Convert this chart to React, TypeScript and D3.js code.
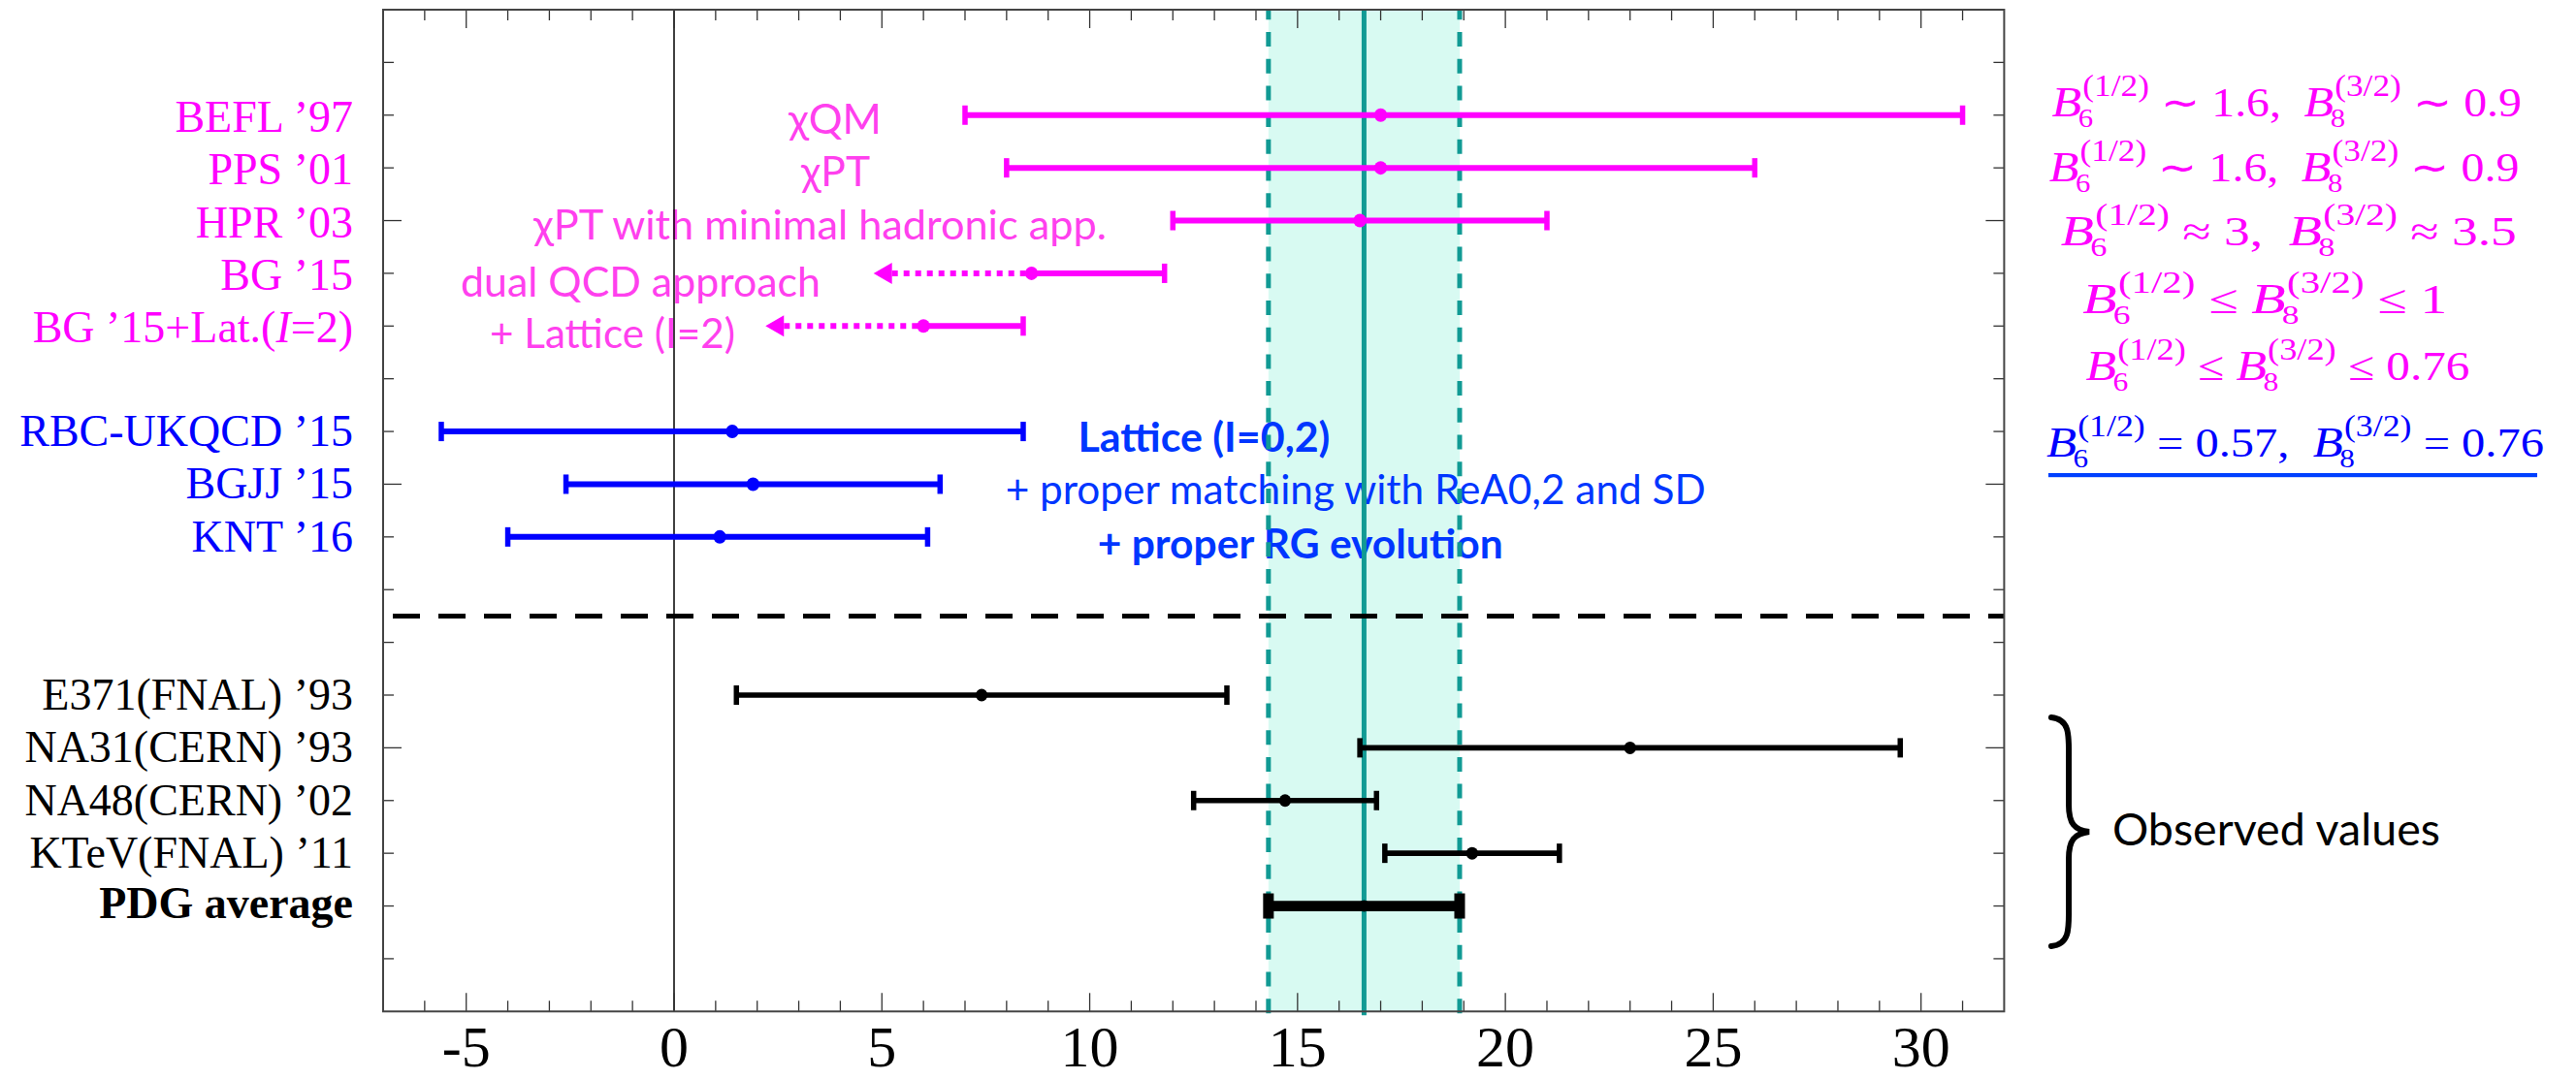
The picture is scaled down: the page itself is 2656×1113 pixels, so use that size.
import React, { useEffect, useRef } from "react";
import * as d3 from "d3";

// ---------------- data ----------------
const xDomain = [-7, 32];
const yDomain = [0, 19];
const xTickLabels = [-5, 0, 5, 10, 15, 20, 25, 30];

const theoryNames = ["BEFL ’97", "PPS ’01", "HPR ’03", "BG ’15", "BG ’15+Lat.(I=2)"];
const theoryRow = [17, 16, 15, 14, 13];
const theoryCentral = [17, 17, 16.5, 8.6, 6.0];
const theoryLow: (number | null)[] = [7, 8, 12, null, null];
const theoryHigh = [31, 26, 21, 11.8, 8.4];
const theoryArrowTo: (number | null)[] = [null, null, null, 4.8, 2.2];

const latticeNames = ["RBC-UKQCD ’15", "BGJJ ’15", "KNT ’16"];
const latticeRow = [11, 10, 9];
const latticeCentral = [1.4, 1.9, 1.1];
const latticeLow = [-5.6, -2.6, -4.0];
const latticeHigh = [8.4, 6.4, 6.1];

const exptNames = ["E371(FNAL) ’93", "NA31(CERN) ’93", "NA48(CERN) ’02", "KTeV(FNAL) ’11"];
const exptRow = [6, 5, 4, 3];
const exptCentral = [7.4, 23.0, 14.7, 19.2];
const exptLow = [1.5, 16.5, 12.5, 17.1];
const exptHigh = [13.3, 29.5, 16.9, 21.3];

const pdgName = "PDG average";
const pdgRow = 2;
const pdgCentral = 16.6;
const pdgLow = 14.3;
const pdgHigh = 18.9;

const separatorRow = 7.5;

const theoryNotes = ["χQM", "χPT", "χPT with minimal hadronic app.", "dual QCD approach", "+ Lattice (I=2)"];
const latticeNotes = ["Lattice (I=0,2)", "+ proper matching with ReA0,2 and SD", "+ proper RG evolution"];
const observedNote = "Observed values";

// B-parameter lines: [sub, sup] tokens stand for B_sub^{sup}
type Tok = string | [string, string];
const bParamLines: Tok[][] = [
  [["6", "(1/2)"], " ∼ 1.6,  ", ["8", "(3/2)"], " ∼ 0.9"],
  [["6", "(1/2)"], " ∼ 1.6,  ", ["8", "(3/2)"], " ∼ 0.9"],
  [["6", "(1/2)"], " ≈ 3,  ", ["8", "(3/2)"], " ≈ 3.5"],
  [["6", "(1/2)"], " ≤ ", ["8", "(3/2)"], " ≤ 1"],
  [["6", "(1/2)"], " ≤ ", ["8", "(3/2)"], " ≤ 0.76"],
  [["6", "(1/2)"], " = 0.57,  ", ["8", "(3/2)"], " = 0.76"],
];

// ---------------- layout ----------------
const W = 2656;
const H = 1113;
const PL = 395, PR = 2066.4, PT = 10, PB = 1043.3;

const MAGENTA = "#ff00ff";
const NOTE_PINK = "#ff40ee";
const BLUE = "#0000ff";
const NOTE_BLUE = "#0036ff";
const TEAL = "#119a94";
const MINT = "#d8faf2";

const theoryNoteLayout = [
  { x: 813, y: 138.3, w: 96 },
  { x: 826, y: 191.7, w: 71 },
  { x: 550, y: 246.7, w: 591 },
  { x: 475, y: 306, w: 371 },
  { x: 505, y: 359.3, w: 253 },
];
const latticeNoteLayout = [
  { x: 1111.4, y: 466, w: 260, bold: true },
  { x: 1036.7, y: 520, w: 722, bold: false },
  { x: 1131.7, y: 576, w: 418, bold: true },
];
const mathLayout = [
  { x: 2115.5, y: 119.6, w: 484, color: MAGENTA },
  { x: 2112.8, y: 186.8, w: 484, color: MAGENTA },
  { x: 2124.8, y: 252.9, w: 470, color: MAGENTA },
  { x: 2147.2, y: 323.2, w: 376, color: MAGENTA },
  { x: 2150.5, y: 392.1, w: 396, color: MAGENTA },
  { x: 2110, y: 471.4, w: 513, color: BLUE },
];

const x = d3.scaleLinear().domain(xDomain).range([PL, PR]);
const y = d3.scaleLinear().domain(yDomain).range([PB, PT]);

const SERIF = "'Liberation Serif', 'Times New Roman', serif";
const SANS = "Lato, 'Open Sans', sans-serif";

function renderLabel(name: string) {
  const m = name.match(/^(.*\()I(=.*)$/);
  if (m) {
    return (
      <>
        {m[1]}
        <tspan fontStyle="italic">I</tspan>
        {m[2]}
      </>
    );
  }
  return name;
}

function ErrBar(props: {
  row: number; c: number; lo: number | null; hi: number; color: string;
  lw: number; capH: number; capW: number; r: number; arrowTo?: number | null;
}) {
  const { row, c, lo, hi, color, lw, capH, capW, r, arrowTo } = props;
  const yy = y(row);
  const els: JSX.Element[] = [];
  if (arrowTo != null) {
    const tip = x(arrowTo);
    els.push(
      <line key="dot" x1={tip + 19} x2={x(c)} y1={yy} y2={yy} stroke={color} strokeWidth={lw} strokeDasharray="6 6" />
    );
    els.push(
      <polygon key="head" points={`${tip},${yy} ${tip + 19},${yy - 11} ${tip + 19},${yy + 11}`} fill={color} />
    );
    els.push(<line key="l" x1={x(c)} x2={x(hi)} y1={yy} y2={yy} stroke={color} strokeWidth={lw} />);
  } else if (lo != null) {
    els.push(<line key="l" x1={x(lo)} x2={x(hi)} y1={yy} y2={yy} stroke={color} strokeWidth={lw} />);
    els.push(<rect key="cl" x={x(lo) - capW / 2} y={yy - capH / 2} width={capW} height={capH} fill={color} />);
  }
  els.push(<rect key="ch" x={x(hi) - capW / 2} y={yy - capH / 2} width={capW} height={capH} fill={color} />);
  els.push(<ellipse key="c" cx={x(c)} cy={yy} rx={r * 0.95} ry={r} fill={color} />);
  return <g>{els}</g>;
}

export default function App() {
  const mathRef = useRef<SVGGElement>(null);

  useEffect(() => {
    const root = d3.select(mathRef.current);
    root.selectAll("*").remove();
    bParamLines.forEach((tokens, i) => {
      const L = mathLayout[i];
      const g = root.append("g").attr("fill", L.color).attr("font-family", SERIF);
      let cx = 0;
      tokens.forEach((tok) => {
        if (typeof tok === "string") {
          const t = g.append("text").attr("x", cx).attr("y", 0).attr("font-size", 42)
            .style("white-space", "pre").text(tok);
          cx += (t.node() as SVGTextElement).getComputedTextLength();
        } else {
          const b = g.append("text").attr("x", cx).attr("y", 0).attr("font-size", 44)
            .attr("font-style", "italic").text("B");
          cx += (b.node() as SVGTextElement).getComputedTextLength() + 1;
          const sup = g.append("text").attr("x", cx).attr("y", -21).attr("font-size", 31).text(tok[1]);
          const sub = g.append("text").attr("x", cx - 4).attr("y", 11).attr("font-size", 27).text(tok[0]);
          cx += Math.max(
            (sup.node() as SVGTextElement).getComputedTextLength(),
            (sub.node() as SVGTextElement).getComputedTextLength() - 4
          );
        }
      });
      const sx = L.w / cx;
      g.attr("transform", `translate(${L.x},${L.y}) scale(${sx},1)`);
    });
  }, []);

  const xMinor = d3.range(-6, 32);
  const yMinor = d3.range(1, 19);
  const isMajorX = (v: number) => v % 5 === 0;
  const isMajorY = (v: number) => v % 5 === 0;

  return (
    <svg width={W} height={H} viewBox={`0 0 ${W} ${H}`}
      style={{ position: "absolute", left: 0, top: 0, display: "block", background: "#fff" }}>
      {/* band */}
      <rect x={x(pdgLow)} y={PT} width={x(pdgHigh) - x(pdgLow)} height={PB - PT} fill={MINT} />

      {/* annotations (under lines) */}
      <g fontFamily={SANS} fill={NOTE_PINK} fontSize={42}>
        {theoryNotes.map((t, i) => (
          <text key={i} x={theoryNoteLayout[i].x} y={theoryNoteLayout[i].y}
            textLength={theoryNoteLayout[i].w} lengthAdjust="spacingAndGlyphs">{t}</text>
        ))}
      </g>
      <g fontFamily={SANS} fill={NOTE_BLUE} fontSize={42}>
        {latticeNotes.map((t, i) => (
          <text key={i} x={latticeNoteLayout[i].x} y={latticeNoteLayout[i].y}
            fontWeight={latticeNoteLayout[i].bold ? 700 : 400}
            textLength={latticeNoteLayout[i].w} lengthAdjust="spacingAndGlyphs">{t}</text>
        ))}
      </g>

      {/* band lines */}
      {[pdgLow, pdgHigh].map((v, i) => (
        <line key={i} x1={x(v)} x2={x(v)} y1={PT} y2={PB + 4} stroke={TEAL} strokeWidth={5}
          strokeDasharray="15 12.7" strokeDashoffset={4.7} />
      ))}
      <line x1={x(pdgCentral)} x2={x(pdgCentral)} y1={PT} y2={PB + 4} stroke={TEAL} strokeWidth={5} />

      {/* zero line */}
      <line x1={x(0)} x2={x(0)} y1={PT} y2={PB} stroke="#000" strokeWidth={1.5} />

      {/* separator */}
      <line x1={PL + 10} x2={PR} y1={y(separatorRow)} y2={y(separatorRow)} stroke="#000" strokeWidth={5}
        strokeDasharray="28 19" />

      {/* error bars */}
      {theoryNames.map((_, i) => (
        <ErrBar key={"t" + i} row={theoryRow[i]} c={theoryCentral[i]} lo={theoryLow[i]} hi={theoryHigh[i]}
          arrowTo={theoryArrowTo[i]} color={MAGENTA} lw={6} capH={20} capW={5.5} r={7} />
      ))}
      {latticeNames.map((_, i) => (
        <ErrBar key={"l" + i} row={latticeRow[i]} c={latticeCentral[i]} lo={latticeLow[i]} hi={latticeHigh[i]}
          color={BLUE} lw={6} capH={20} capW={5.5} r={7} />
      ))}
      {exptNames.map((_, i) => (
        <ErrBar key={"e" + i} row={exptRow[i]} c={exptCentral[i]} lo={exptLow[i]} hi={exptHigh[i]}
          color="#000" lw={5.7} capH={20} capW={5.5} r={6.5} />
      ))}
      <ErrBar row={pdgRow} c={pdgCentral} lo={pdgLow} hi={pdgHigh} color="#000" lw={10.7} capH={26} capW={11} r={6} />

      {/* frame and ticks */}
      <g stroke="#333" strokeWidth={1.3}>
        {xMinor.map((v) => {
          const len = isMajorX(v) ? 19 : 11;
          return (
            <g key={"xt" + v}>
              <line x1={x(v)} x2={x(v)} y1={PB} y2={PB - len} />
              <line x1={x(v)} x2={x(v)} y1={PT} y2={PT + len} />
            </g>
          );
        })}
        {yMinor.map((v) => {
          const len = isMajorY(v) ? 19 : 11;
          return (
            <g key={"yt" + v}>
              <line x1={PL} x2={PL + len} y1={y(v)} y2={y(v)} />
              <line x1={PR} x2={PR - len} y1={y(v)} y2={y(v)} />
            </g>
          );
        })}
      </g>
      <rect x={PL} y={PT} width={PR - PL} height={PB - PT} fill="none" stroke="#444" strokeWidth={2} />

      {/* x tick labels */}
      <g fontFamily={SERIF} fontSize={60} textAnchor="middle" fill="#000">
        {xTickLabels.map((v) => (
          <text key={v} x={x(v)} y={1099.5}>{v < 0 ? `-${-v}` : `${v}`}</text>
        ))}
      </g>

      {/* row labels */}
      <g fontFamily={SERIF} fontSize={46} textAnchor="end">
        {theoryNames.map((n, i) => (
          <text key={"tn" + i} x={364} y={y(theoryRow[i]) + 17} fill={MAGENTA}>{renderLabel(n)}</text>
        ))}
        {latticeNames.map((n, i) => (
          <text key={"ln" + i} x={364} y={y(latticeRow[i]) + 15} fill={BLUE}>{renderLabel(n)}</text>
        ))}
        {exptNames.map((n, i) => (
          <text key={"en" + i} x={364} y={y(exptRow[i]) + 15} fill="#000">{renderLabel(n)}</text>
        ))}
        <text x={364} y={y(pdgRow) + 12} fill="#000" fontWeight="bold">{pdgName}</text>
      </g>

      {/* B parameter formulas */}
      <g ref={mathRef} />
      <rect x={2112} y={488} width={504} height={4.2} fill="#0040ff" />

      {/* brace + observed */}
      <path d="M2115,740 C2135,742 2133,760 2133,782 L2133,830 C2133,850 2139,856 2154,858 C2139,860 2133,866 2133,886 L2133,934 C2133,956 2135,974 2115,976"
        fill="none" stroke="#000" strokeWidth={6} strokeLinecap="round" />
      <text x={2178} y={872} fontFamily={SANS} fontSize={46} fill="#000"
        textLength={338} lengthAdjust="spacingAndGlyphs">{observedNote}</text>
    </svg>
  );
}
